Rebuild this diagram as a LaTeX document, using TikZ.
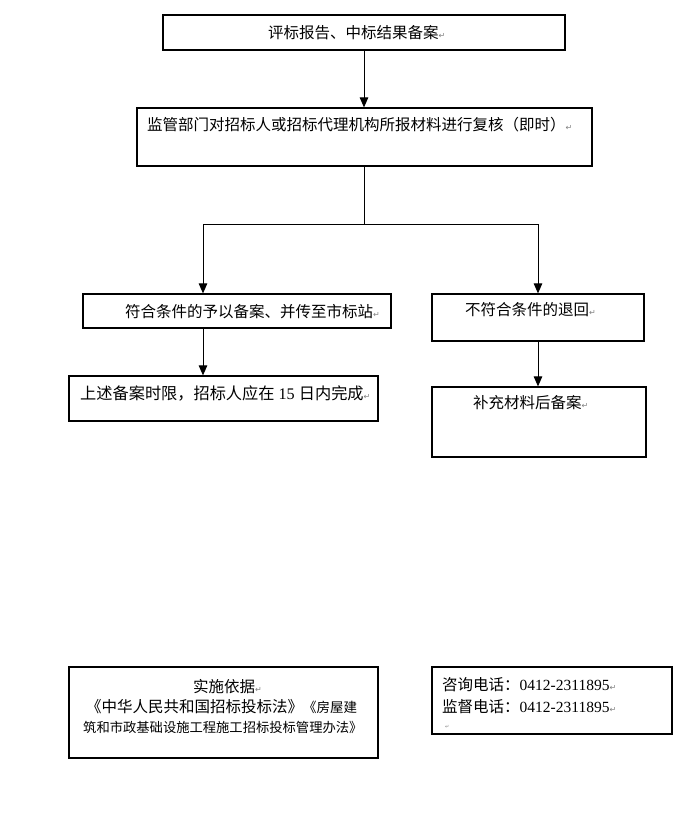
\documentclass[tikz,border=0pt]{standalone}
\usepackage{fontspec}
\setmainfont{Liberation Serif}
\newfontfamily\cjk{Noto Sans CJK SC}
\newfontfamily\num{Liberation Serif}
\newfontfamily\dejavu{DejaVu Sans}
\usetikzlibrary{arrows.meta}
\newcommand\parmark{{\dejavu\fontsize{8}{8}\selectfont\textcolor{gray}{↵}}}

\begin{document}
\begin{tikzpicture}
[x=1pt,y=-1pt,
 box/.style={draw,line width=1.2pt,inner sep=0pt},
 txt/.style={anchor=west,inner sep=0pt,font=\cjk\fontsize{15.5}{20}\selectfont},
 small/.style={txt,font=\cjk\fontsize{13.3}{18}\selectfont},
 arr/.style={-{Triangle[length=10pt,width=8.5pt]},line width=1pt},
 link/.style={line width=1pt}]
\useasboundingbox (0,0) rectangle (700,836);
\node[box,minimum width=402pt,minimum height=35pt] (report) at (364,32.5) {};
\node[box,minimum width=455pt,minimum height=58pt] (check) at (364.5,137) {};
\node[box,minimum width=308pt,minimum height=34pt] (accept) at (237,311) {};
\node[box,minimum width=212pt,minimum height=47pt] (reject) at (538,317.5) {};
\node[box,minimum width=309pt,minimum height=45pt] (deadline) at (223.5,398.5) {};
\node[box,minimum width=214pt,minimum height=70pt] (supplement) at (539,422) {};
\node[box,minimum width=309pt,minimum height=91pt] (basis) at (223.5,712.5) {};
\node[box,minimum width=240pt,minimum height=67pt] (phone) at (552,700.5) {};

\node[txt] (report text) at (268,33) {评标报告、中标结果备案\parmark};
\node[txt] (check text) at (147,125) {监管部门对招标人或招标代理机构所报材料进行复核（即时）\parmark};
\node[txt] (accept text) at (125,312) {符合条件的予以备案、并传至市标站\parmark};
\node[txt] (reject text) at (465,310) {不符合条件的退回\parmark};
\node[txt,font=\cjk\fontsize{16.2}{20}\selectfont] (deadline text) at (80,393) {上述备案时限，招标人应在{\num\ 15\ }日内完成\parmark};
\node[txt] (supplement text) at (473,403) {补充材料后备案\parmark};
\node[txt] (basis title) at (193,687) {实施依据\parmark};
\node[txt] (basis law) at (86,707) {《中华人民共和国招标投标法》{\fontsize{13.5}{18}\selectfont《房屋建}};
\node[small] (basis rule) at (83,727) {筑和市政基础设施工程施工招标投标管理办法》};
\node[txt] (phone ask) at (442,685) {咨询电话：{\num 0412-2311895}\parmark};
\node[txt] (phone watch) at (442,707) {监督电话：{\num 0412-2311895}\parmark};
\node[txt] (phone end) at (445,727) {{\dejavu\fontsize{5}{5}\selectfont\textcolor{gray}{↵}}};

\coordinate (split) at (check.south |- 0,224);
\coordinate (branch) at (203,224);
\draw[arr] (report.south) -- (report.south |- check.north);
\draw[link] (check.south) -- (split);
\draw[arr] (split) -| (reject.north);
\draw[arr] (split) -- (branch) -- (branch |- accept.north);
\draw[arr] (branch |- accept.south) -- (branch |- deadline.north);
\draw[arr] (reject.south) -- (reject.south |- supplement.north);
\end{tikzpicture}
\end{document}
